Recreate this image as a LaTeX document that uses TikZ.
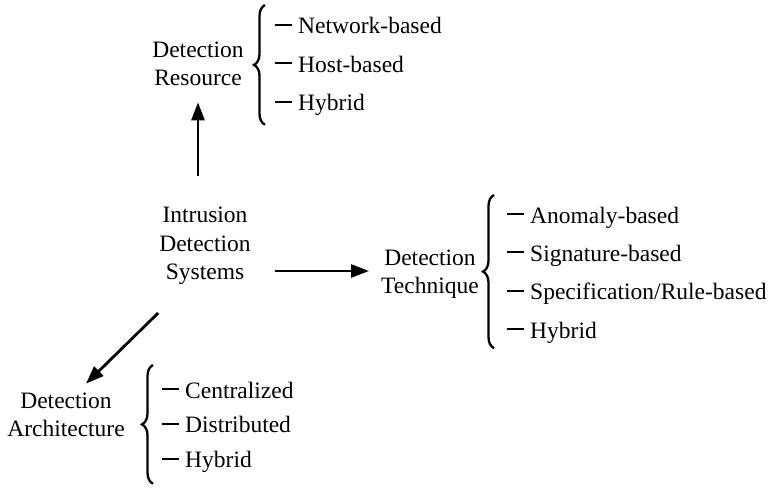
\documentclass[tikz,border=0pt]{standalone}
\usepackage{fontspec}
\setmainfont{Liberation Serif}
\usetikzlibrary{positioning,arrows.meta,decorations.pathreplacing,calc}

\newcommand{\itemdash}{\rule[0.34em]{0.72em}{2.2pt}\hspace{0.26em}}

\begin{document}
\begin{tikzpicture}[
    x=1pt, y=-1pt,
    font=\fontsize{23.5}{28.5}\selectfont,
    node distance=17pt,
    % --- category labels ---
    cat/.style={align=center, inner sep=0pt},
    % --- list entries ---
    entry/.style={inner sep=0pt, text height=16pt, text depth=5pt},
    % --- curly brace in front of a list ---
    curly/.style={decorate, decoration={brace, amplitude=11pt}, line width=2.3pt},
    arr/.style={-{Triangle[length=18pt,width=13pt]}, line width=2.8pt},
  ]
  \useasboundingbox (0,0) rectangle (773,487);

  % ---- ROOT -------------------------------------------------------------
  \node[cat] (ids) at (205,246) {Intrusion\\Detection\\Systems};

  % ---- DETECTION RESOURCE -----------------------------------------------
  \node[cat] (res) at (198,64) {Detection\\Resource};
  \node[entry, anchor=base west] (res1) at (275,34) {\itemdash Network-based};
  \node[entry, below=17pt of res1.south west, anchor=north west] (res2) {\itemdash Host-based};
  \node[entry, below=17pt of res2.south west, anchor=north west] (res3) {\itemdash Hybrid};
  \draw[curly] ([xshift=-10pt,yshift=-14pt]res3.base west)
        -- ([xshift=-10pt,yshift=29pt]res1.base west);

  % ---- DETECTION TECHNIQUE ----------------------------------------------
  \node[cat] (tech) at (430,274) {Detection\\Technique};
  \node[entry, anchor=base west] (tech1) at (507,223) {\itemdash Anomaly-based};
  \node[entry, below=17pt of tech1.south west, anchor=north west] (tech2) {\itemdash Signature-based};
  \node[entry, below=17pt of tech2.south west, anchor=north west] (tech3) {\itemdash Specification/Rule-based};
  \node[entry, below=17pt of tech3.south west, anchor=north west] (tech4) {\itemdash Hybrid};
  \draw[curly] ([xshift=-13pt,yshift=-10pt]tech4.base west)
        -- ([xshift=-13pt,yshift=28pt]tech1.base west);

  % ---- DETECTION ARCHITECTURE -------------------------------------------
  \node[cat] (arch) at (66,415) {Detection\\Architecture};
  \node[entry, anchor=base west] (arch1) at (162,398) {\itemdash Centralized};
  \node[entry, below=13.5pt of arch1.south west, anchor=north west] (arch2) {\itemdash Distributed};
  \node[entry, below=13.5pt of arch2.south west, anchor=north west] (arch3) {\itemdash Hybrid};
  \draw[curly] ([xshift=-9pt,yshift=-16pt]arch3.base west)
        -- ([xshift=-9pt,yshift=33pt]arch1.base west);

  % ---- arrows out of the root -------------------------------------------
  \draw[arr] ($(ids.north -| res.south)+(0pt,31pt)$) -- ([yshift=-16pt]res.south);
  \draw[arr] ($(ids.east |- tech.west)+(24pt,3pt)$) -- ([xshift=-12pt,yshift=3pt]tech.west);
  \draw[arr] ([shift={(-1pt,-28pt)}]ids.south west) -- ([shift={(20pt,9pt)}]arch.north);

\end{tikzpicture}
\end{document}
